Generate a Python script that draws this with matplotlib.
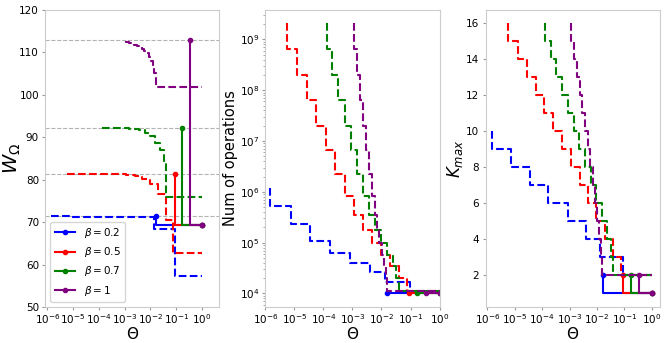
import numpy as np
import matplotlib as mpl
import matplotlib.pyplot as plt

## Data ##
betas = [0.2, 0.5, 0.7, 1]
colors = ['blue', 'red', 'green', 'purple']

# Theta thresholds where K_max drops by one (last point is Theta = 1)
theta_02 = [1.45e-6, 7.4e-6, 3.5e-5, 1.66e-4, 8.5e-4, 4.1e-3, 1.32e-2, 9.3e-2, 1.0]
theta_05 = [5.75e-6, 1.26e-5, 2.8e-5, 5.75e-5, 1.2e-4, 2.5e-4, 5.4e-4, 1.15e-3,
            2.4e-3, 4.8e-3, 9.5e-3, 1.9e-2, 3.9e-2, 7.6e-2, 1.0]
theta_07 = [1.29e-4, 2.04e-4, 3.3e-4, 5.4e-4, 8.7e-4, 1.41e-3, 2.3e-3, 3.7e-3,
            6.0e-3, 9.5e-3, 1.51e-2, 2.4e-2, 3.2e-2, 4.0e-2, 1.0]
theta_10 = [1.1e-3, 1.45e-3, 1.86e-3, 2.34e-3, 2.95e-3, 3.7e-3, 4.7e-3, 5.75e-3,
            7.1e-3, 8.5e-3, 1.02e-2, 1.2e-2, 1.38e-2, 1.58e-2, 1.0]

# K_max along each curve
kmax_02 = [10, 9, 8, 7, 6, 5, 4, 3, 2]
kmax_05 = [16, 15, 14, 13, 12, 11, 10, 9, 8, 7, 6, 5, 4, 3, 2]
kmax_07 = [16, 15, 14, 13, 12, 11, 10, 9, 8, 7, 6, 5, 4, 3, 2]
kmax_10 = [16, 15, 14, 13, 12, 11, 10, 9, 8, 7, 6, 5, 4, 3, 2]

# W_Omega along each curve
w_02 = [71.35, 71.33, 71.32, 71.3, 71.28, 71.25, 71.1, 68.4, 57.3]
w_05 = [81.4, 81.38, 81.37, 81.36, 81.35, 81.33, 81.3, 81.25, 81.15, 80.9,
        80.1, 79.0, 76.6, 70.5, 62.8]
w_07 = [92.2, 92.19, 92.18, 92.16, 92.14, 92.1, 92.05, 91.95, 91.6, 91.0,
        90.3, 88.7, 86.9, 84.5, 76.0]
w_10 = [112.6, 112.4, 112.2, 112.0, 111.8, 111.5, 111.2, 110.9, 110.4, 109.8,
        109.0, 108.0, 106.7, 105.2, 101.9]

# Number of operations along each curve
ops_02 = [1.2e6, 5.2e5, 2.3e5, 1.1e5, 6.3e4, 3.9e4, 2.7e4, 1.7e4, 1.05e4]
ops_05 = [2.06e9, 6.6e8, 2.0e8, 6.3e7, 2.0e7, 6.6e6, 2.2e6, 8.3e5, 3.5e5,
          1.8e5, 1.0e5, 5.8e4, 3.5e4, 2.0e4, 1.1e4]
ops_07 = [2.06e9, 6.6e8, 2.0e8, 6.3e7, 2.0e7, 6.6e6, 2.2e6, 8.3e5, 3.5e5,
          1.8e5, 1.0e5, 5.8e4, 3.5e4, 2.0e4, 1.1e4]
ops_10 = [2.06e9, 6.6e8, 2.0e8, 6.3e7, 2.0e7, 6.6e6, 2.2e6, 8.3e5, 3.5e5,
          1.8e5, 1.0e5, 5.8e4, 3.5e4, 2.0e4, 1.1e4]

# Solid curves: start Theta and end Theta
sol_theta = [[1.6e-2, 1.0], [9.0e-2, 1.0], [1.7e-1, 1.0], [3.5e-1, 1.0]]
sol_w = [[71.38, 69.4], [81.39, 69.4], [92.18, 69.4], [112.83, 69.4]]
sol_ops = [[1.0e4, 1.0e4], [1.0e4, 1.0e4], [1.0e4, 1.0e4], [1.0e4, 1.0e4]]
sol_kmax = [[2, 1], [2, 1], [2, 1], [2, 1]]

# Reference levels (grey dashed)
w_ref = [112.83, 92.18, 81.39, 71.38]

thetas = [theta_02, theta_05, theta_07, theta_10]
kmaxs = [kmax_02, kmax_05, kmax_07, kmax_10]
ws = [w_02, w_05, w_07, w_10]
opss = [ops_02, ops_05, ops_07, ops_10]

####################################################################################################

mpl.rcParams['xtick.labelsize'] = 7.5
mpl.rcParams['ytick.labelsize'] = 7.5
mpl.rcParams['axes.edgecolor'] = '0.8'
mpl.rcParams['xtick.color'] = '0.6'
mpl.rcParams['ytick.color'] = '0.6'
mpl.rcParams['xtick.labelcolor'] = 'black'
mpl.rcParams['ytick.labelcolor'] = 'black'
mpl.rcParams['xtick.major.size'] = 2.5
mpl.rcParams['ytick.major.size'] = 2.5
mpl.rcParams['xtick.minor.size'] = 1.5
mpl.rcParams['ytick.minor.size'] = 1.5
mpl.rcParams['xtick.major.pad'] = 1.5
mpl.rcParams['ytick.major.pad'] = 2
mpl.rcParams['axes.labelpad'] = 1

fig, axs = plt.subplots(1, 3, figsize=(6.65, 3.43), dpi=100)
ax1, ax2, ax3 = axs

xt = [1e-6, 1e-5, 1e-4, 1e-3, 1e-2, 1e-1, 1e0]

## W_Omega ##
for w in w_ref:
  ax1.axhline(w, color='gray', linestyle='--', linewidth=0.8, alpha=0.6, zorder=0)
for n in range(4):
  ax1.plot(thetas[n], ws[n], color=colors[n], linestyle='--', drawstyle='steps-pre')
  ax1.plot(sol_theta[n], sol_w[n], color=colors[n], marker='.', drawstyle='steps-pre',
           label=r'$\beta = %g$' %(betas[n]))
ax1.set_xscale('log')
ax1.set_xlim(10**-6.08, 10**0.67)
ax1.set_ylim(50, 120)
ax1.set_xticks(xt)
ax1.set_ylabel(r'$W_\Omega$', fontsize=14)
ax1.yaxis.set_label_coords(-0.125, 0.5)
ax1.set_xlabel(r'$\Theta$', fontsize=11, labelpad=0)
ax1.legend(loc='lower left', fontsize=7.5)

## Number of operations ##
for n in range(4):
  ax2.plot(thetas[n], opss[n], color=colors[n], linestyle='--', drawstyle='steps-pre')
  ax2.plot(sol_theta[n], sol_ops[n], color=colors[n], marker='.', drawstyle='steps-pre')
ax2.set_xscale('log')
ax2.set_yscale('log')
ax2.set_xlim(1e-6, 1)
ax2.set_xticks(xt)
ax2.set_ylabel('Num of operations', fontsize=10.5)
ax2.set_xlabel(r'$\Theta$', fontsize=11, labelpad=0)

## K_max ##
for n in range(4):
  ax3.plot(thetas[n], kmaxs[n], color=colors[n], linestyle='--', drawstyle='steps-pre')
  ax3.plot(sol_theta[n], sol_kmax[n], color=colors[n], marker='.', drawstyle='steps-pre')
ax3.set_xscale('log')
ax3.set_xlim(10**-6.07, 10**0.29)
ax3.set_xticks(xt)
ax3.set_yticks([2, 4, 6, 8, 10, 12, 14, 16])
ax3.set_ylabel(r'$K_{max}$', fontsize=12)
ax3.set_xlabel(r'$\Theta$', fontsize=11, labelpad=0)

plt.subplots_adjust(left=0.068, right=0.992, bottom=0.105, top=0.971, wspace=0.264)
plt.savefig('out.png')
